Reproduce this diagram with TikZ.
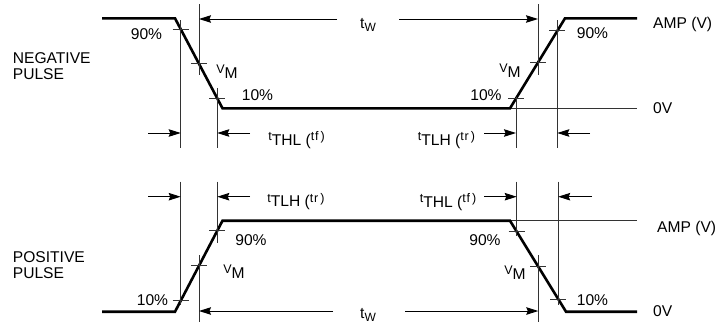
\documentclass[tikz,border=0pt]{standalone}
\usepackage{fontspec}
\setmainfont{Liberation Sans}
\usetikzlibrary{arrows.meta,calc}
\newcommand\rsm[1]{\raisebox{4.5pt}{\fontsize{12.5}{12.5}\selectfont #1}}
\newcommand\tsub[1]{t\raisebox{-3pt}{\fontsize{12}{12}\selectfont #1}}
\begin{document}
\begin{tikzpicture}[x=1pt,y=-1pt,
  pulse/.style={line width=2.6pt, line join=miter, line cap=butt},
  guide/.style={line width=0.9pt, black!80},
  tickmark/.style={line width=0.9pt, black!80},
  dim/.style={line width=0.9pt, -{Stealth[length=12pt,width=7.5pt,inset=1.5pt]}},
  lbl/.style={font=\fontsize{15.6}{16}\selectfont, inner sep=0pt, anchor=base},
  lblw/.style={lbl, anchor=base west},
]
\useasboundingbox (0,0) rectangle (728,322);

% ---------------- NEGATIVE PULSE ----------------
\coordinate (a0) at (102,18.3);
\coordinate (a1) at (175,18.3);
\coordinate (a2) at (222.5,108.3);
\coordinate (a3) at (510,108.3);
\coordinate (a4) at (565,18.3);
\coordinate (a5) at (637,18.3);
\coordinate (a6) at (637,108.3);
\draw[guide] (a3) -- (a6);
\draw[pulse] (a0) -- (a1) -- (a2) -- (a3) -- (a4) -- (a5);

\coordinate (ta1) at ($(a1)!0.12!(a2)$);
\coordinate (ta2) at ($(a1)!0.505!(a2)$);
\coordinate (ta3) at ($(a1)!0.89!(a2)$);
\coordinate (ta4) at ($(a3)!0.109!(a4)$);
\coordinate (ta5) at ($(a3)!0.509!(a4)$);
\coordinate (ta6) at ($(a3)!0.86!(a4)$);
\foreach \p in {ta1,ta2,ta3,ta4,ta5,ta6}
  \draw[tickmark] ([xshift=-8pt]\p) -- ([xshift=8pt]\p);

\draw[guide] (ta1 |- 0,20) -- (ta1 |- 0,148);
\draw[guide] (ta2 |- 0,4) -- (ta2 |- 0,75);
\draw[guide] (ta3 |- 0,88) -- (ta3 |- 0,148);
\draw[guide] (ta4 |- 0,97) -- (ta4 |- 0,148);
\draw[guide] (ta5 |- 0,4) -- (ta5 |- 0,75);
\draw[guide] (ta6 |- 0,20) -- (ta6 |- 0,148);

\draw[dim] (337,19) -- (ta2 |- 0,19);
\draw[dim] (399,19) -- (ta5 |- 0,19);
\draw[dim] (148,133) -- (ta1 |- 0,133);
\draw[dim] (250,133) -- (ta3 |- 0,133);
\draw[dim] (484,133) -- (ta4 |- 0,133);
\draw[dim] (590,133) -- (ta6 |- 0,133);

\node[lblw] (neg1) at (12.7,63) {NEGATIVE};
\node[lblw] (neg2) at (12.7,79) {PULSE};
\node[lbl] (n90a) at (146.5,39) {90\%};
\node[lbl] (nvma) at (227,78) {\rsm{V}M};
\node[lbl] (n10a) at (257.5,100) {10\%};
\node[lbl] (n10b) at (486,100) {10\%};
\node[lbl] (nvmb) at (510,77) {\rsm{V}M};
\node[lbl] (n90b) at (592.5,38.3) {90\%};
\node[lblw] (namp1) at (653,28) {AMP (V)};
\node[lblw] (nzero1) at (653,113) {0V};
\node[lbl] (ntw1) at (368,28) {\tsub{W}};
\node[lbl] (nthl1) at (296.5,145) {\rsm{t}THL (\rsm{t\kern0.8pt f\kern2pt)}};
\node[lbl] (ntlh1) at (446.5,145) {\rsm{t}TLH (\rsm{t\kern0.8pt r\kern2pt)}};

% ---------------- POSITIVE PULSE ----------------
\coordinate (b0) at (102,311.7);
\coordinate (b1) at (175,311.7);
\coordinate (b2) at (222.5,220.7);
\coordinate (b3) at (510,220.7);
\coordinate (b4) at (566,311.7);
\coordinate (b5) at (637,311.7);
\coordinate (b6) at (637,220.7);
\draw[guide] (b3) -- (b6);
\draw[pulse] (b0) -- (b1) -- (b2) -- (b3) -- (b4) -- (b5);

\coordinate (tb1) at ($(b1)!0.12!(b2)$);
\coordinate (tb2) at ($(b1)!0.505!(b2)$);
\coordinate (tb3) at ($(b1)!0.89!(b2)$);
\coordinate (tb4) at ($(b3)!0.12!(b4)$);
\coordinate (tb5) at ($(b3)!0.505!(b4)$);
\coordinate (tb6) at ($(b3)!0.86!(b4)$);
\foreach \p in {tb1,tb2,tb3,tb4,tb5,tb6}
  \draw[tickmark] ([xshift=-8pt]\p) -- ([xshift=8pt]\p);

\draw[guide] (tb1 |- 0,181.7) -- (tb1 |- 0,305);
\draw[guide] (tb2 |- 0,255) -- (tb2 |- 0,322);
\draw[guide] (tb3 |- 0,181.7) -- (tb3 |- 0,243);
\draw[guide] (tb4 |- 0,181.7) -- (tb4 |- 0,236);
\draw[guide] (tb5 |- 0,255) -- (tb5 |- 0,322);
\draw[guide] (tb6 |- 0,181.7) -- (tb6 |- 0,305);

\draw[dim] (148,196.7) -- (tb1 |- 0,196.7);
\draw[dim] (250,196.7) -- (tb3 |- 0,196.7);
\draw[dim] (484,196.7) -- (tb4 |- 0,196.7);
\draw[dim] (592,196.7) -- (tb6 |- 0,196.7);
\draw[dim] (333,311) -- (tb2 |- 0,311);
\draw[dim] (405,311) -- (tb5 |- 0,311);

\node[lblw] (pos1) at (12.7,262) {POSITIVE};
\node[lblw] (pos2) at (12.7,278) {PULSE};
\node[lbl] (p10a) at (152.5,305) {10\%};
\node[lbl] (p90a) at (251,245) {90\%};
\node[lbl] (pvma) at (234,278) {\rsm{V}M};
\node[lbl] (p90b) at (485,245) {90\%};
\node[lbl] (pvmb) at (515,279) {\rsm{V}M};
\node[lbl] (p10b) at (592.5,305.7) {10\%};
\node[lblw] (pamp) at (657,232) {AMP (V)};
\node[lblw] (pzero) at (653,316.7) {0V};
\node[lbl] (ptw) at (368,318) {\tsub{W}};
\node[lbl] (ptlh) at (296,206.7) {\rsm{t}TLH (\rsm{t\kern0.8pt r\kern2pt)}};
\node[lbl] (pthl) at (448,207) {\rsm{t}THL (\rsm{t\kern0.8pt f\kern2pt)}};
\end{tikzpicture}
\end{document}
